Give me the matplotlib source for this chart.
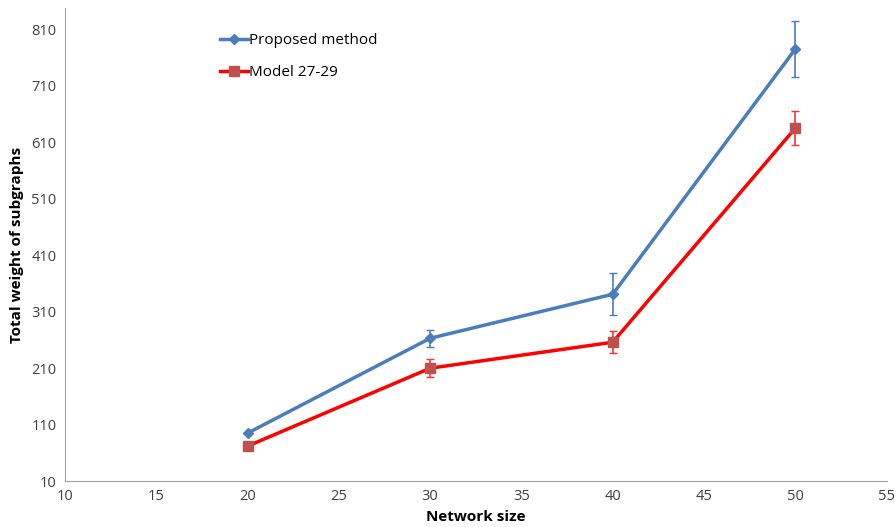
import matplotlib.pyplot as plt
from matplotlib.lines import Line2D

network_size = [20, 30, 40, 50]
proposed = [95, 263, 341, 775]
proposed_err = [0, 15, 37, 50]
model = [72, 210, 256, 635]
model_err = [0, 16, 19, 30]
yticks = [10, 110, 210, 310, 410, 510, 610, 710, 810]
xticks = [10, 15, 20, 25, 30, 35, 40, 45, 50, 55]

plt.rcParams['font.family'] = ['Open Sans', 'DejaVu Sans']

fig = plt.figure(figsize=(8.96, 5.27), dpi=100)
ax = fig.add_axes([0.0725, 0.087, 0.917, 0.898])

ax.errorbar(network_size, proposed, yerr=proposed_err, color='#4A7EBB', lw=2.5,
            marker='D', ms=5, ecolor='#4A7EBB', elinewidth=1.2, capsize=3)
ax.errorbar(network_size, model, yerr=model_err, color='#FF0000', lw=2.5,
            marker='s', ms=7, mfc='#C0504D', mec='#C0504D', ecolor='#FF3030',
            elinewidth=1.2, capsize=3)

ax.set_xlim(10, 55)
ax.set_ylim(10, 848)
ax.set_xticks(xticks)
ax.set_yticks(yticks)
ax.tick_params(length=0, labelsize=10.5, colors='#404040', pad=6)
for s in ['top', 'right']:
    ax.spines[s].set_visible(False)
for s in ['left', 'bottom']:
    ax.spines[s].set_color('#A0A0A0')

ax.set_xlabel('Network size', fontsize=11, fontweight='bold', labelpad=4)
ax.set_ylabel('Total weight of subgraphs', fontsize=11, fontweight='bold', labelpad=5)

handles = [
    Line2D([], [], color='#4A7EBB', lw=2.5, marker='D', ms=5),
    Line2D([], [], color='#FF0000', lw=2.5, marker='s', ms=7, mfc='#C0504D', mec='#C0504D'),
]
ax.legend(handles, ['Proposed method', 'Model 27-29'], loc='upper left',
          bbox_to_anchor=(0.172, 0.975), frameon=False, fontsize=11,
          handlelength=1.8, handletextpad=0.1, labelspacing=1.1)

plt.savefig('out.png')
